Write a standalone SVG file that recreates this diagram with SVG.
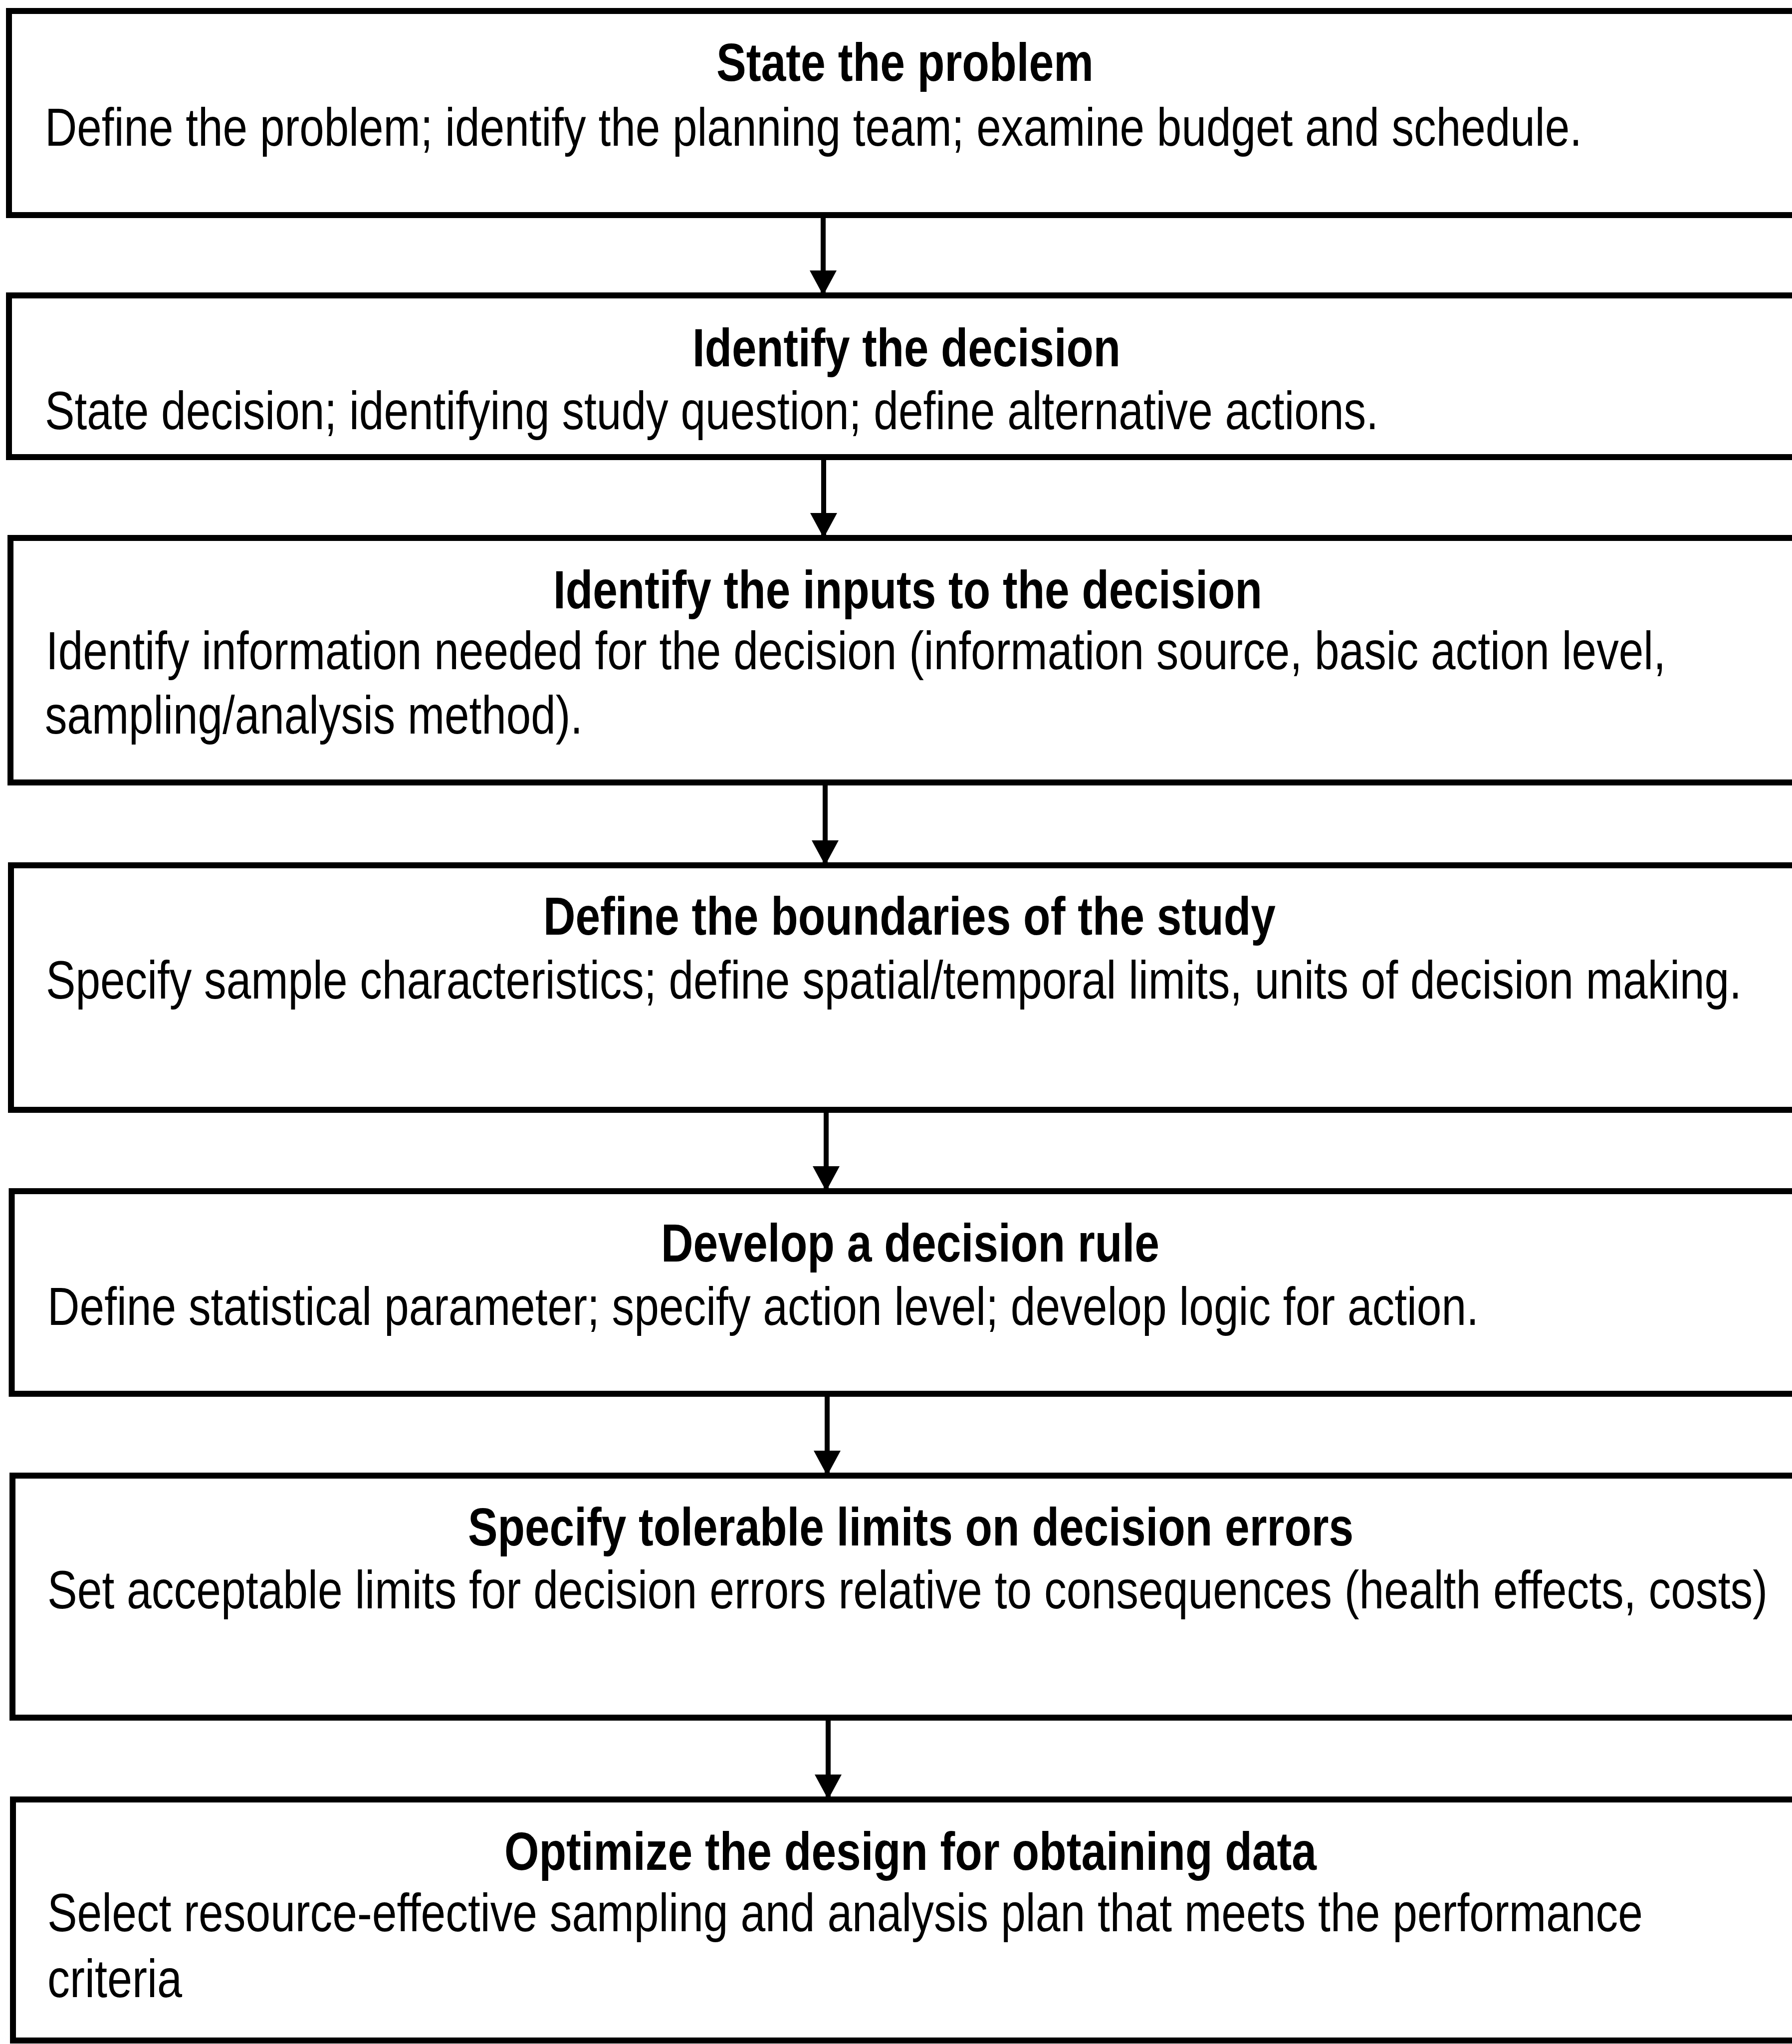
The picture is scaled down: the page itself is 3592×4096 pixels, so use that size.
<svg xmlns="http://www.w3.org/2000/svg" width="3592" height="4096" viewBox="0 0 3592 4096">
<style>
.box{fill:#fff;stroke:#000;stroke-width:12;stroke-linejoin:miter}
.t{font-family:"Liberation Sans",Arial,Helvetica,sans-serif;font-size:108px;font-weight:bold;fill:#000}
.b{font-family:"Liberation Sans",Arial,Helvetica,sans-serif;font-size:108px;fill:#000}
.c{stroke:#000;stroke-width:10;fill:none}
</style>
<defs>
<marker id="ah" markerUnits="userSpaceOnUse" viewBox="0 0 50 54" refX="50" refY="27" markerWidth="50" markerHeight="54" orient="auto">
<path d="M0,0 L50,27 L0,54 Z" fill="#000"/>
</marker>
</defs>
<rect width="3592" height="4096" fill="#fff"/>
<g id="connectors">
<line class="c" x1="1650" y1="431" x2="1650" y2="592" marker-end="url(#ah)"/>
<line class="c" x1="1651" y1="916" x2="1651" y2="1078" marker-end="url(#ah)"/>
<line class="c" x1="1654" y1="1568" x2="1654" y2="1734" marker-end="url(#ah)"/>
<line class="c" x1="1656" y1="2224" x2="1656" y2="2387" marker-end="url(#ah)"/>
<line class="c" x1="1658" y1="2793" x2="1658" y2="2957" marker-end="url(#ah)"/>
<line class="c" x1="1660" y1="3442" x2="1660" y2="3606" marker-end="url(#ah)"/>
</g>
<g id="n1">
<path class="box" d="M3592,22 H18 V431 H3592"/>
<text class="t" transform="scale(0.81 1)" x="1772.8" y="162" textLength="933.3" lengthAdjust="spacingAndGlyphs">State the problem</text>
<text class="b" transform="scale(0.74 1)" x="121.6" y="292" textLength="4163.5" lengthAdjust="spacingAndGlyphs">Define the problem; identify the planning team; examine budget and schedule.</text>
</g>
<g id="n2">
<path class="box" d="M3592,592 H18 V916 H3592"/>
<text class="t" transform="scale(0.81 1)" x="1713.6" y="734" textLength="1059.3" lengthAdjust="spacingAndGlyphs">Identify the decision</text>
<text class="b" transform="scale(0.74 1)" x="121.6" y="860" textLength="3612.2" lengthAdjust="spacingAndGlyphs">State decision; identifying study question; define alternative actions.</text>
</g>
<g id="n3">
<path class="box" d="M3592,1078 H21 V1568 H3592"/>
<text class="t" transform="scale(0.81 1)" x="1369.1" y="1219" textLength="1754.3" lengthAdjust="spacingAndGlyphs">Identify the inputs to the decision</text>
<text class="b" transform="scale(0.74 1)" x="124.3" y="1341" textLength="4387.8" lengthAdjust="spacingAndGlyphs">Identify information needed for the decision (information source, basic action level,</text>
<text class="b" transform="scale(0.74 1)" x="121.6" y="1470" textLength="1456.8" lengthAdjust="spacingAndGlyphs">sampling/analysis method).</text>
</g>
<g id="n4">
<path class="box" d="M3592,1734 H22 V2224 H3592"/>
<text class="t" transform="scale(0.81 1)" x="1344.4" y="1873" textLength="1812.3" lengthAdjust="spacingAndGlyphs">Define the boundaries of the study</text>
<text class="b" transform="scale(0.74 1)" x="124.3" y="2001" textLength="4593.2" lengthAdjust="spacingAndGlyphs">Specify sample characteristics; define spatial/temporal limits, units of decision making.</text>
</g>
<g id="n5">
<path class="box" d="M3592,2387 H23.5 V2793 H3592"/>
<text class="t" transform="scale(0.81 1)" x="1635.8" y="2528" textLength="1233.3" lengthAdjust="spacingAndGlyphs">Develop a decision rule</text>
<text class="b" transform="scale(0.74 1)" x="128.4" y="2655" textLength="3877" lengthAdjust="spacingAndGlyphs">Define statistical parameter; specify action level; develop logic for action.</text>
</g>
<g id="n6">
<path class="box" d="M3592,2957 H25 V3442 H3592"/>
<text class="t" transform="scale(0.81 1)" x="1158" y="3097" textLength="2191.4" lengthAdjust="spacingAndGlyphs">Specify tolerable limits on decision errors</text>
<text class="b" transform="scale(0.74 1)" x="128.4" y="3223" textLength="4659.5" lengthAdjust="spacingAndGlyphs">Set acceptable limits for decision errors relative to consequences (health effects, costs)</text>
</g>
<g id="n7">
<path class="box" d="M3592,3606 H26 V4089 H3592"/>
<text class="t" transform="scale(0.81 1)" x="1248.1" y="3747" textLength="2009.9" lengthAdjust="spacingAndGlyphs">Optimize the design for obtaining data</text>
<text class="b" transform="scale(0.74 1)" x="128.4" y="3870" textLength="4321.6" lengthAdjust="spacingAndGlyphs">Select resource-effective sampling and analysis plan that meets the performance</text>
<text class="b" transform="scale(0.74 1)" x="128.4" y="4002" textLength="364.9" lengthAdjust="spacingAndGlyphs">criteria</text>
</g>
</svg>
